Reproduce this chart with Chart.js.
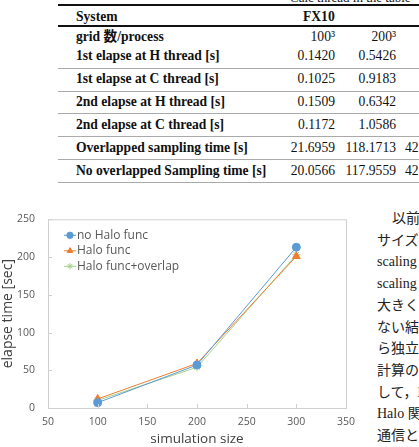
<!DOCTYPE html>
<html>
<head>
<meta charset="utf-8">
<script src="https://cdn.jsdelivr.net/npm/chart.js@4"></script>
<style>
  html, body { margin: 0; padding: 0; background: #fff; }
  body { width: 419px; height: 447px; position: relative; overflow: hidden; }
  .tbl { position: absolute; left: 0; top: 0; width: 419px; height: 190px; font-family: "Liberation Serif", "Noto Sans CJK JP", serif; font-size: 13.6px; color: #111; }
  .rule { position: absolute; left: 58px; right: 0; }
  .cell { position: absolute; white-space: nowrap; line-height: 16px; }
  .lab { left: 76px; font-weight: bold; }
  .c1 { right: 84px; text-align: right; }
  .c2 { right: 23px; text-align: right; }
  .c3 { left: 405px; }
  .txt { position: absolute; left: 0; top: 0; font-family: "Liberation Serif", "Noto Sans CJK JP", serif; font-size: 14px; color: #222; }
  .ln { position: absolute; left: 377px; height: 20px; line-height: 20px; white-space: nowrap; }
  #wrap { position: absolute; left: 0; top: 200px; width: 363px; height: 247px; }
</style>
</head>
<body>
<div class="tbl" id="tbl"></div>
<div class="txt" id="txt"></div>
<div id="wrap"><canvas id="elapseChart"></canvas></div>
<script>
// chart data
const simSizes = [100, 200, 300];
const noHalo = [7, 57, 213];
const halo = [12, 59, 201];
const haloOverlap = [10, 54, 203];
const seriesNames = ['no Halo func', 'Halo func', 'Halo func+overlap'];

// table data
const rowLabels = ['grid 数/process', '1st elapse at H thread [s]', '1st elapse at C thread [s]',
    '2nd elapse at H thread [s]', '2nd elapse at C thread [s]',
    'Overlapped sampling time [s]', 'No overlapped Sampling time [s]'];
const col100 = ['100³', '0.1420', '0.1025', '0.1509', '0.1172', '21.6959', '20.0566'];
const col200 = ['200³', '0.5426', '0.9183', '0.6342', '1.0586', '118.1713', '117.9559'];
const col300 = ['', '', '', '', '', '42', '42'];
const rowY = [29, 48, 71, 94, 117, 140, 163];
const sepY = [68, 91, 113, 136, 159, 182];

const textLines = ['以前の研', 'サイズを', 'scaling の', 'scaling に', '大きくな', 'ない結果', 'ら独立し', '計算の効', 'して，H', 'Halo 関数', '通信と計'];

function buildTable() {
    const t = document.getElementById('tbl');
    let html = '';
    html += '<div class="cell" style="left:290px;top:-10px;font-size:13px;">Calc thread in the table</div>';
    html += '<div class="rule" style="top:4px;height:2px;background:#111"></div>';
    html += '<div class="cell lab" style="top:9px">System</div>';
    html += '<div class="cell" style="left:303px;top:9px;font-weight:bold">FX10</div>';
    html += '<div class="rule" style="top:25px;height:2px;background:#111"></div>';
    rowLabels.forEach((lab, i) => {
        html += '<div class="cell lab" style="top:' + rowY[i] + 'px">' + lab + '</div>';
        html += '<div class="cell c1" style="top:' + rowY[i] + 'px">' + col100[i] + '</div>';
        html += '<div class="cell c2" style="top:' + rowY[i] + 'px">' + col200[i] + '</div>';
        html += '<div class="cell c3" style="top:' + rowY[i] + 'px">' + col300[i] + '</div>';
    });
    sepY.forEach(y => {
        html += '<div class="rule" style="top:' + y + 'px;height:1px;background:#aaa"></div>';
    });
    t.innerHTML = html;

    // right-hand body text, one line per div
    document.getElementById('txt').innerHTML = textLines.map((l, i) => {
        const indent = i === 0 ? 'left:392px;' : '';
        return '<div class="ln" style="' + indent + 'top:' + (209 + i * 21.7) + 'px">' + l + '</div>';
    }).join('');
}
buildTable();

// box around plot + small inner tick marks
const plotFrame = {
    id: 'plotFrame',
    afterDraw(chart) {
        const { ctx, chartArea: a, scales } = chart;
        ctx.save();
        ctx.strokeStyle = '#d0d0d0';
        ctx.lineWidth = 1;
        ctx.strokeRect(a.left + 0.5, a.top + 0.5, a.right - a.left, a.bottom - a.top);
        ctx.beginPath();
        scales.x.ticks.forEach(t => {
            const px = Math.round(scales.x.getPixelForValue(t.value)) + 0.5;
            ctx.moveTo(px, a.bottom);
            ctx.lineTo(px, a.bottom - 4);
        });
        scales.y.ticks.forEach(t => {
            const py = Math.round(scales.y.getPixelForValue(t.value)) + 0.5;
            ctx.moveTo(a.left, py);
            ctx.lineTo(a.left + 4, py);
        });
        ctx.stroke();
        ctx.restore();
    }
};

// legend drawn inside the plot, top left
const innerLegend = {
    id: 'innerLegend',
    afterDatasetsDraw(chart) {
        const { ctx, chartArea: a } = chart;
        ctx.save();
        ctx.font = '12px "Open Sans", sans-serif';
        ctx.textBaseline = 'middle';
        chart.data.datasets.forEach((ds, i) => {
            const cx = a.left + 22;
            const cy = a.top + 16 + i * 15.5;
            ctx.strokeStyle = ds.borderColor;
            ctx.lineWidth = 1;
            ctx.beginPath();
            ctx.moveTo(cx - 6, cy);
            ctx.lineTo(cx + 6, cy);
            ctx.stroke();
            ctx.fillStyle = ds.borderColor;
            Chart.helpers.drawPoint(ctx, { pointStyle: ds.pointStyle, radius: 3.2, borderWidth: 1 }, cx, cy);
            ctx.fillStyle = '#595959';
            ctx.fillText(ds.label, cx + 7, cy);
        });
        ctx.restore();
    }
};

function makeSet(label, values, color, style, r) {
    return {
        label: label,
        data: simSizes.map((x, i) => ({ x: x, y: values[i] })),
        borderColor: color,
        backgroundColor: color,
        borderWidth: 1,
        pointStyle: style,
        pointRadius: r,
        pointBorderWidth: 1,
        tension: 0
    };
}

const elapseChart = new Chart(document.getElementById('elapseChart'), {
    type: 'line',
    data: {
        datasets: [
            makeSet(seriesNames[0], noHalo, '#5B9BD5', 'circle', 4),
            makeSet(seriesNames[1], halo, '#ED7D31', 'triangle', 4.5),
            makeSet(seriesNames[2], haloOverlap, '#A9D18E', 'star', 4)
        ]
    },
    options: {
        responsive: true,
        maintainAspectRatio: false,
        animation: false,
        layout: { padding: { top: 16, right: 4, left: 0, bottom: 0 } },
        plugins: {
            legend: { display: false },
            tooltip: { enabled: false }
        },
        scales: {
            x: {
                type: 'linear',
                min: 50,
                max: 350,
                ticks: { stepSize: 50, color: '#595959', padding: 8, font: { family: 'Open Sans', size: 10.5 } },
                grid: { display: false, drawTicks: false },
                border: { color: '#d0d0d0' },
                title: { display: true, text: 'simulation size', color: '#404040', padding: { top: 1, bottom: 0 }, font: { family: 'Open Sans', size: 13.5 } },
                afterFit(scale) { scale.height = 39; }
            },
            y: {
                min: 0,
                max: 250,
                ticks: { stepSize: 50, color: '#595959', padding: 13, font: { family: 'Open Sans', size: 10.5 } },
                grid: { display: false, drawTicks: false },
                border: { color: '#d0d0d0' },
                title: { display: true, text: 'elapse time [sec]', color: '#404040', padding: 0, font: { family: 'Open Sans', size: 14 } },
                afterFit(scale) { scale.width = 48; }
            }
        }
    },
    plugins: [plotFrame, innerLegend]
});
</script>
</body>
</html>
